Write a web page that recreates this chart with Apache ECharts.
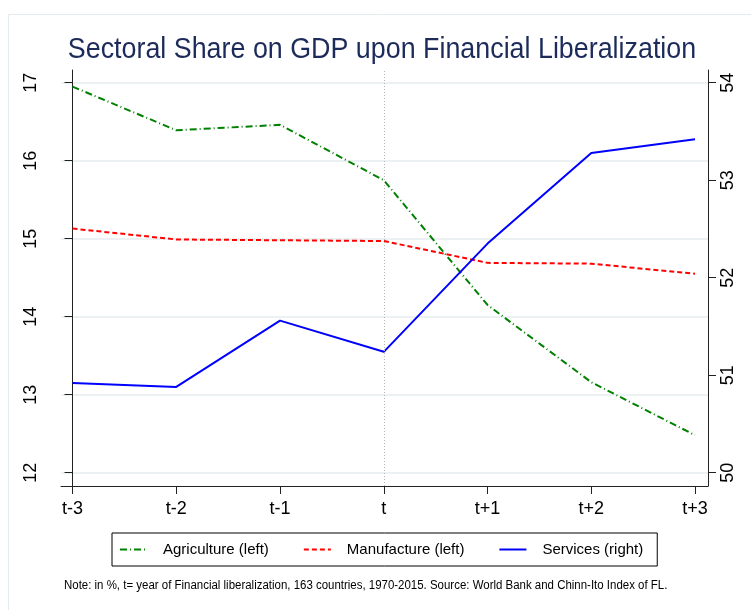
<!DOCTYPE html>
<html>
<head>
<meta charset="utf-8">
<script src="https://cdn.jsdelivr.net/npm/echarts@6/dist/echarts.min.js"></script>
<style>
  html, body { margin: 0; padding: 0; background: #fff; }
  #box { width: 751px; height: 610px; }
</style>
</head>
<body>
<div id="box"></div>
<script>
var categories = ["t-3", "t-2", "t-1", "t", "t+1", "t+2", "t+3"];
var agriculture = [16.95, 16.39, 16.46, 15.75, 14.15, 13.16, 12.48];
var manufacture = [15.13, 14.99, 14.98, 14.97, 14.69, 14.68, 14.55];
var services = [50.92, 50.88, 51.56, 51.24, 52.35, 53.28, 53.42];
var leftTicks = [12, 13, 14, 15, 16, 17];
var rightTicks = [50, 51, 52, 53, 54];
var xTicks = [0, 1, 2, 3, 4, 5, 6];

var FONT = "'Liberation Sans', Arial, Helvetica, sans-serif";

function pairs(arr) {
  return arr.map(function (v, i) { return [i, v]; });
}

var myChart = echarts.init(document.getElementById("box"));
var option = {
  backgroundColor: "#fff",
  animation: false,
  textStyle: { fontFamily: FONT },
  grid: { left: 61, right: 43, top: 70, bottom: 124 },
  legend: {
    left: 112,
    top: 533,
    orient: "horizontal",
    itemWidth: 27,
    itemHeight: 14,
    itemGap: 34,
    padding: [9, 14, 9, 7],
    borderColor: "#000",
    borderWidth: 1,
    itemStyle: { opacity: 0 },
    textStyle: { fontFamily: FONT, fontSize: 15, color: "#000", padding: [0, 0, 0, 11] },
    data: ["Agriculture (left)", "Manufacture (left)", "Services (right)"]
  },
  graphic: [
    {
      type: "rect",
      left: 6, top: 12,
      shape: { width: 760, height: 620 },
      style: { fill: "none", stroke: "#e3ebee", lineWidth: 1 },
      silent: true
    },
    {
      // chart title (narrow, like the original)
      type: "text",
      x: 382, y: 50,
      scaleX: 0.895,
      style: {
        text: "Sectoral Share on GDP upon Financial Liberalization",
        font: "30px " + FONT,
        fill: "#1c2b5a",
        textAlign: "center",
        textVerticalAlign: "middle"
      }
    },
    {
      type: "text",
      x: 64, y: 586,
      scaleX: 0.955,
      style: {
        text: "Note: in %, t= year of Financial liberalization, 163 countries, 1970-2015. Source: World Bank and Chinn-Ito Index of FL.",
        font: "12px " + FONT,
        fill: "#000",
        textAlign: "left",
        textVerticalAlign: "middle"
      }
    }
  ],
  xAxis: {
    type: "value",
    min: -0.111,
    max: 6.125,
    axisLine: { show: true, lineStyle: { color: "#222", width: 1 } },
    axisTick: { show: true, length: 8, customValues: xTicks, lineStyle: { color: "#222" } },
    axisLabel: {
      customValues: xTicks,
      margin: 14,
      fontSize: 18,
      color: "#000",
      fontFamily: FONT,
      formatter: function (v) { return categories[v]; }
    },
    splitLine: { show: false }
  },
  yAxis: [
    {
      type: "value",
      position: "left",
      min: 11.829,
      max: 17.163,
      axisLine: { show: true, lineStyle: { color: "#222", width: 1 } },
      axisTick: { show: true, length: 8, customValues: leftTicks, lineStyle: { color: "#222" } },
      axisLabel: { customValues: leftTicks, rotate: 90, margin: 21, fontSize: 18, color: "#000", fontFamily: FONT },
      splitLine: { show: true, lineStyle: { color: "#e6eef1", width: 1.5 } }
    },
    {
      type: "value",
      position: "right",
      min: 49.864,
      max: 54.130,
      axisLine: { show: true, lineStyle: { color: "#222", width: 1 } },
      axisTick: { show: true, length: 8, customValues: rightTicks, lineStyle: { color: "#222" } },
      axisLabel: { customValues: rightTicks, rotate: 90, margin: 11, fontSize: 18, color: "#000", fontFamily: FONT },
      splitLine: { show: false }
    }
  ],
  series: [
    {
      name: "Agriculture (left)",
      type: "line",
      yAxisIndex: 0,
      symbol: "none",
      data: pairs(agriculture),
      color: "#008000",
      lineStyle: { color: "#008000", width: 2, type: [7, 3, 1, 3] },
      markLine: {
        silent: true,
        symbol: "none",
        label: { show: false },
        lineStyle: { color: "#b4b4b4", width: 1, type: [1, 2] },
        data: [{ xAxis: 3 }]
      }
    },
    {
      name: "Manufacture (left)",
      type: "line",
      yAxisIndex: 0,
      symbol: "none",
      data: pairs(manufacture),
      color: "#ff0000",
      lineStyle: { color: "#ff0000", width: 2, type: [5, 3] }
    },
    {
      name: "Services (right)",
      type: "line",
      yAxisIndex: 1,
      symbol: "none",
      data: pairs(services),
      color: "#0000ff",
      lineStyle: { color: "#0000ff", width: 2 }
    }
  ]
};
myChart.setOption(option);
</script>
</body>
</html>
